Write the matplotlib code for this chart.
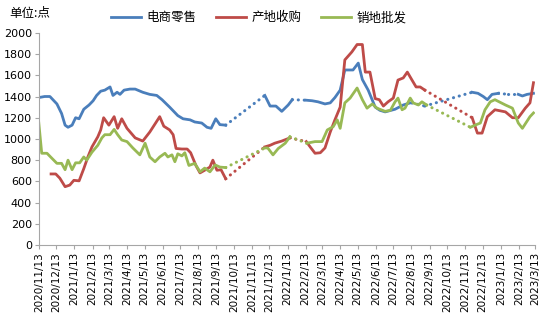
import numpy as np
import pandas as pd
import matplotlib
matplotlib.use("Agg")
import matplotlib.pyplot as plt

plt.rcParams['font.family'] = ['Noto Sans CJK SC', 'DejaVu Sans']

nan = np.nan

# 电商零售 (NaN = no data, bridged with a dotted line)
ecom_dates = [
  "2020-11-13", "2020-11-23", "2020-12-02", "2020-12-14", "2020-12-22", "2020-12-28",
  "2021-01-02", "2021-01-09", "2021-01-15", "2021-01-21", "2021-01-29", "2021-02-07",
  "2021-02-14", "2021-02-20", "2021-02-27", "2021-03-06", "2021-03-15", "2021-03-20",
  "2021-03-27", "2021-04-01", "2021-04-08", "2021-04-18", "2021-04-27", "2021-05-10",
  "2021-05-22", "2021-06-03", "2021-06-12", "2021-06-25", "2021-07-09", "2021-07-18",
  "2021-07-30", "2021-08-07", "2021-08-19", "2021-08-28", "2021-09-04", "2021-09-12",
  "2021-09-19", "2021-09-29", "2021-11-01", "2021-12-05", "2021-12-14", "2021-12-24",
  "2022-01-03", "2022-01-14", "2022-01-21", "2022-02-02", "2022-02-14", "2022-02-24",
  "2022-03-06", "2022-03-18", "2022-03-27", "2022-04-04", "2022-04-13", "2022-04-21",
  "2022-05-05", "2022-05-14", "2022-05-21", "2022-05-31", "2022-06-12", "2022-06-20",
  "2022-06-29", "2022-07-16", "2022-07-30", "2022-08-11", "2022-08-14", "2022-08-25",
  "2022-09-05", "2022-10-15", "2022-11-25", "2022-12-05", "2022-12-14", "2022-12-21",
  "2022-12-29", "2023-01-09", "2023-01-18", "2023-01-26", "2023-02-04", "2023-02-12",
  "2023-02-19", "2023-02-27", "2023-03-10",
]
ecom_vals = [
  1390, 1400, 1400, 1330, 1240, 1130,
  1110, 1130, 1200, 1190, 1280, 1320,
  1360, 1410, 1450, 1460, 1490, 1410,
  1440, 1420, 1460, 1470, 1470, 1440,
  1420, 1410, 1370, 1300, 1220, 1190,
  1180, 1160, 1150, 1110, 1100, 1190,
  1135, 1130, nan, 1410, 1310, 1310,
  1260, 1320, 1370, nan, 1365, 1360,
  1350, 1330, 1340, 1390, 1460, 1650,
  1650, 1715, 1560, 1460, 1300, 1270,
  1255, 1280, 1320, 1340, 1340, nan,
  1310, nan, 1440, 1430, 1400, 1370,
  1420, 1430, nan, 1420, nan, 1420,
  1405, 1420, 1430,
]

# 产地收购
origin_dates = [
  "2020-12-04", "2020-12-12", "2020-12-19", "2020-12-28", "2021-01-05", "2021-01-12",
  "2021-01-21", "2021-01-29", "2021-02-05", "2021-02-12", "2021-02-22", "2021-02-27",
  "2021-03-04", "2021-03-13", "2021-03-22", "2021-03-28", "2021-04-04", "2021-04-13",
  "2021-04-27", "2021-05-10", "2021-05-22", "2021-06-01", "2021-06-08", "2021-06-15",
  "2021-06-25", "2021-07-01", "2021-07-06", "2021-07-16", "2021-07-25", "2021-07-31",
  "2021-08-09", "2021-08-16", "2021-08-24", "2021-09-02", "2021-09-07", "2021-09-14",
  "2021-09-21", "2021-09-29", "2021-11-01", "2021-12-05", "2021-12-14", "2021-12-22",
  "2022-01-03", "2022-01-17", "2022-02-01", "2022-02-14", "2022-02-22", "2022-03-01",
  "2022-03-10", "2022-03-18", "2022-03-27", "2022-04-04", "2022-04-13", "2022-04-21",
  "2022-05-03", "2022-05-12", "2022-05-21", "2022-05-26", "2022-06-03", "2022-06-12",
  "2022-06-19", "2022-06-26", "2022-07-04", "2022-07-13", "2022-07-21", "2022-07-30",
  "2022-08-06", "2022-08-14", "2022-08-21", "2022-08-28", "2022-09-05", "2022-10-15",
  "2022-11-25", "2022-12-04", "2022-12-12", "2022-12-21", "2023-01-03", "2023-01-21",
  "2023-02-02", "2023-02-12", "2023-02-24", "2023-03-04", "2023-03-10",
]
origin_vals = [
  670, 670, 630, 550, 565, 610,
  605, 720, 830, 925, 1020, 1085,
  1200, 1130, 1210, 1100, 1190, 1100,
  1010, 980, 1065, 1150, 1210, 1120,
  1085, 1040, 910, 905, 905, 870,
  750, 680, 705, 735, 800, 705,
  710, 625, nan, 925, 940, 960,
  980, 1010, nan, 975, 915, 865,
  870, 915, 1065, 1180, 1300, 1745,
  1820, 1890, 1890, 1630, 1630, 1380,
  1370, 1310, 1350, 1385, 1555, 1575,
  1630, 1555, 1490, 1490, 1460, nan,
  1200, 1055, 1055, 1210, 1275, 1255,
  1200, 1200, 1290, 1340, 1530,
]

# 销地批发
market_dates = [
  "2020-11-13", "2020-11-18", "2020-11-27", "2020-12-05", "2020-12-14", "2020-12-22",
  "2020-12-28", "2021-01-02", "2021-01-09", "2021-01-15", "2021-01-22", "2021-01-29",
  "2021-02-03", "2021-02-12", "2021-02-22", "2021-03-01", "2021-03-06", "2021-03-15",
  "2021-03-22", "2021-03-28", "2021-04-04", "2021-04-13", "2021-04-23", "2021-05-05",
  "2021-05-14", "2021-05-22", "2021-05-31", "2021-06-08", "2021-06-17", "2021-06-22",
  "2021-06-29", "2021-07-04", "2021-07-09", "2021-07-16", "2021-07-21", "2021-07-28",
  "2021-08-07", "2021-08-16", "2021-08-24", "2021-09-02", "2021-09-11", "2021-09-19",
  "2021-09-29", "2021-11-01", "2021-12-05", "2021-12-10", "2021-12-19", "2021-12-28",
  "2022-01-09", "2022-01-17", "2022-02-01", "2022-02-15", "2022-03-01", "2022-03-13",
  "2022-03-22", "2022-04-01", "2022-04-08", "2022-04-13", "2022-04-21", "2022-04-30",
  "2022-05-12", "2022-05-21", "2022-05-29", "2022-06-07", "2022-06-15", "2022-06-29",
  "2022-07-08", "2022-07-16", "2022-07-21", "2022-07-28", "2022-08-02", "2022-08-11",
  "2022-08-16", "2022-08-25", "2022-08-31", "2022-09-08", "2022-10-15", "2022-11-22",
  "2022-11-30", "2022-12-09", "2022-12-17", "2022-12-26", "2023-01-03", "2023-01-21",
  "2023-02-02", "2023-02-12", "2023-02-19", "2023-03-04", "2023-03-10",
]
market_vals = [
  1150, 865, 865, 820, 770, 770,
  710, 800, 710, 775, 775, 830,
  800, 875, 940, 1010, 1040, 1040,
  1090, 1040, 990, 975, 915, 850,
  960, 830, 785, 830, 865, 830,
  850, 785, 860, 840, 870, 750,
  770, 690, 725, 690, 755, 735,
  730, nan, 915, 915, 850, 910,
  960, 1020, nan, 960, 975, 975,
  1085, 1115, 1180, 1100, 1340, 1385,
  1480, 1370, 1290, 1330, 1290, 1260,
  1270, 1350, 1385, 1275, 1290, 1385,
  1340, 1320, 1350, 1320, nan, 1110,
  1130, 1150, 1275, 1350, 1370, 1320,
  1290, 1150, 1100, 1210, 1245,
]

series = [
  ("电商零售", ecom_dates, ecom_vals, "#4a7ebb"),
  ("产地收购", origin_dates, origin_vals, "#be4b48"),
  ("销地批发", market_dates, market_vals, "#98b954"),
]


def draw_series(ax, dates, vals, color, label):
  x = pd.to_datetime(dates)
  y = np.array(vals, dtype=float)
  ax.plot(x, y, color=color, linewidth=2.0, label=label, solid_joinstyle='round')

  # bridge missing stretches with a round-dot line
  ok = np.where(~np.isnan(y))[0]
  for a, b in zip(ok[:-1], ok[1:]):
    if b - a > 1:
      ax.plot([x[a], x[b]], [y[a], y[b]], color=color, linewidth=2.2,
              linestyle=(0, (0.05, 1.9)), dash_capstyle='round')


fig = plt.figure(figsize=(5.39, 3.22), dpi=100)
ax = fig.add_axes([0.072, 0.239, 0.921, 0.659])

for label, dates, vals, color in series:
  draw_series(ax, dates, vals, color, label)

start = pd.Timestamp("2020-11-13")
end = pd.Timestamp("2023-03-13")
ticks = pd.date_range("2020-11-01", end, freq="MS") + pd.Timedelta(days=12)
ticks = [t for t in ticks if start <= t <= end]
ax.set_xlim(start, end)
ax.set_xticks(ticks)
ax.set_xticklabels([f"{t.year}/{t.month}/{t.day}" for t in ticks],
                   rotation=90, fontsize=7.5, family='DejaVu Sans')

ax.set_ylim(0, 2000)
ax.set_yticks(range(0, 2001, 200))
ax.set_yticklabels([str(v) for v in range(0, 2001, 200)], fontsize=8, family='DejaVu Sans')

for side in ['top', 'right']:
  ax.spines[side].set_visible(False)
for side in ['left', 'bottom']:
  ax.spines[side].set_color('#a6a6a6')
ax.tick_params(axis='both', colors='#a6a6a6', length=3, labelcolor='black', pad=2)

fig.text(0.018, 0.958, "单位:点", fontsize=9, va='center')

fig.legend(loc='upper center', bbox_to_anchor=(0.48, 1.0), ncol=3, frameon=False,
           fontsize=9, handlelength=2.4, columnspacing=1.6, handletextpad=0.4)

fig.savefig("out.png", dpi=100)
